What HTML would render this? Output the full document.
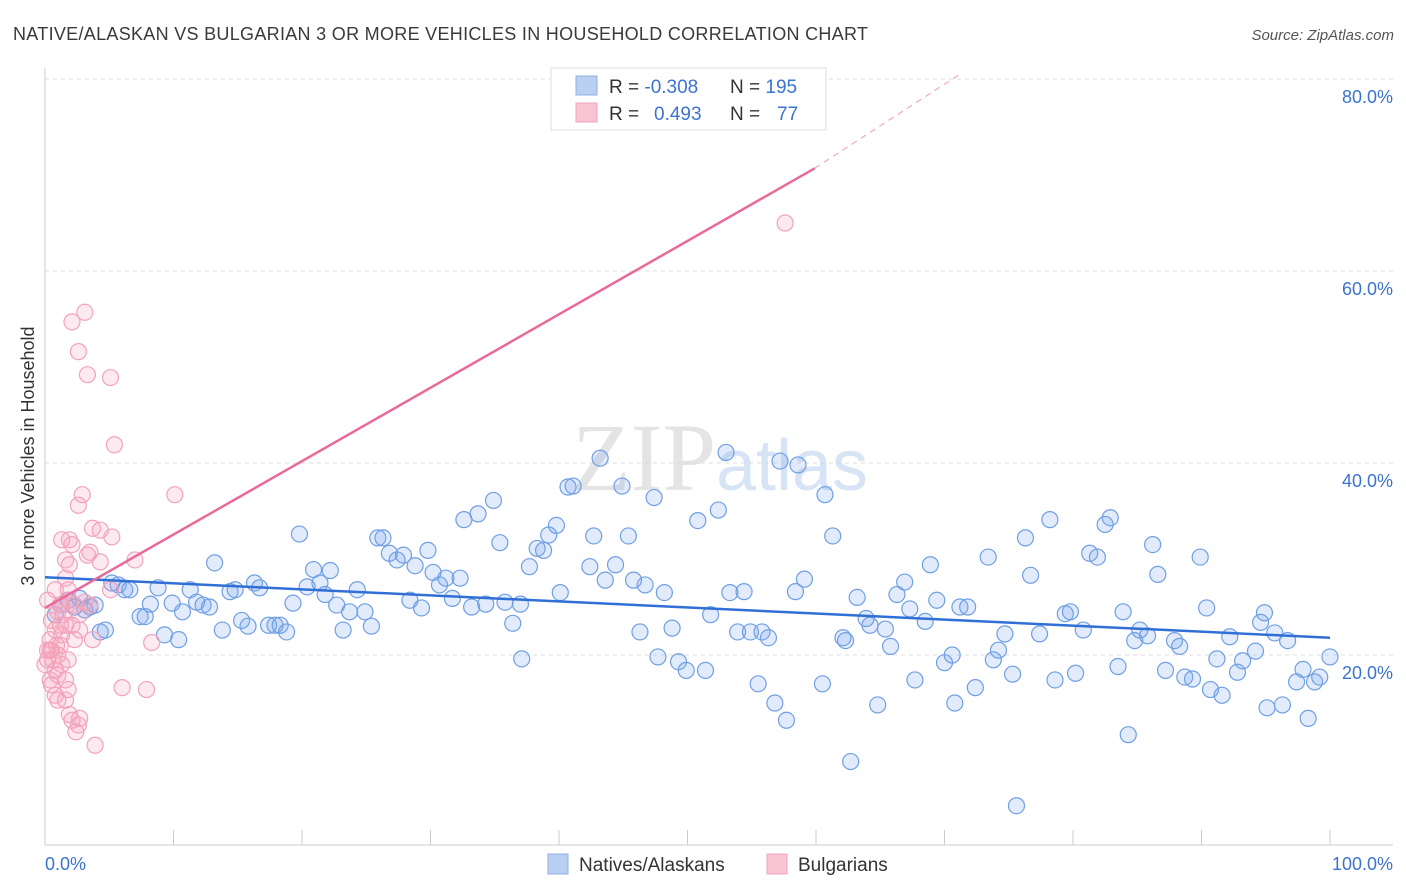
<!DOCTYPE html>
<html><head><meta charset="utf-8"><style>
body{margin:0;background:#fff;font-family:"Liberation Sans",sans-serif;}
svg{display:block}
</style></head><body>
<svg id="chart" width="1406" height="892" xmlns="http://www.w3.org/2000/svg">
<text x="13" y="40" font-size="18" fill="#3a3a3a" letter-spacing="0.3">NATIVE/ALASKAN VS BULGARIAN 3 OR MORE VEHICLES IN HOUSEHOLD CORRELATION CHART</text>
<text x="1394" y="40" font-size="15" fill="#555" text-anchor="end" font-style="italic">Source: ZipAtlas.com</text>
<text x="720" y="490" font-size="96" text-anchor="middle" fill="#e4e4e4" font-family="Liberation Serif,serif">ZIP<tspan fill="#d6e4f5" font-family="Liberation Sans,sans-serif" font-size="72">atlas</tspan></text>
<text transform="translate(34,456) rotate(-90)" font-size="18" fill="#333" text-anchor="middle">3 or more Vehicles in Household</text>
<g id="grid"></g><g id="axes"></g><g id="pts"></g><g id="lines"></g>
<g>
<rect x="551" y="68" width="275" height="62" fill="#fff" stroke="#ddd"/>
<rect x="576" y="76" width="21" height="19" fill="#b8d0f2" stroke="#8fb1e0"/>
<rect x="576" y="103" width="21" height="19" fill="#f9c4d3" stroke="#f0a4ba"/>
<text x="609" y="93" font-size="19" fill="#333">R = <tspan fill="#3b73d0">-0.308</tspan><tspan x="730">N = </tspan><tspan fill="#3b73d0">195</tspan></text>
<text x="609" y="120" font-size="19" fill="#333">R = <tspan x="654" fill="#3b73d0">0.493</tspan><tspan x="730">N = </tspan><tspan x="777" fill="#3b73d0">77</tspan></text>
</g>
<g>
<rect x="548" y="854" width="20" height="20" fill="#b8d0f2" stroke="#8fb1e0"/>
<text x="579" y="871" font-size="19" fill="#333">Natives/Alaskans</text>
<rect x="767" y="854" width="20" height="20" fill="#f9c4d3" stroke="#f0a4ba"/>
<text x="798" y="871" font-size="19" fill="#333">Bulgarians</text>
</g>
</svg>
<script>
const yTicks=[20,40,60,80];
const yTickLabels=["20.0%","40.0%","60.0%","80.0%"];
const xTickLabels=["0.0%","100.0%"];
const blueX=[0.8,1.2,1.8,2.3,2.7,3.1,3.5,3.9,4.3,4.7,5.2,5.7,6.2,6.6,7.4,7.8,8.2,8.8,9.3,9.9,10.4,10.7,11.3,11.8,12.3,12.8,13.2,13.8,14.4,14.8,15.3,15.8,16.3,16.7,17.4,17.9,18.3,18.8,19.3,19.8,20.4,20.9,21.4,21.8,22.2,22.7,23.2,23.7,24.3,24.9,25.4,25.9,26.3,26.8,27.4,27.9,28.4,28.8,29.3,29.8,30.2,30.7,31.2,31.7,32.3,32.6,33.2,33.7,34.3,34.9,35.4,35.8,36.4,37.0,37.1,37.7,38.3,38.8,39.2,39.8,40.1,40.7,41.1,42.4,42.7,43.2,43.6,44.4,44.9,45.4,45.8,46.3,46.7,47.4,48.2,47.7,48.8,49.3,49.9,50.8,51.4,51.8,52.4,53.0,53.3,53.9,54.4,54.9,55.5,55.8,56.3,56.8,57.2,57.7,58.4,58.6,59.1,60.5,60.7,61.3,62.1,62.3,62.7,63.2,63.9,64.2,64.8,65.4,65.8,66.3,66.9,67.3,67.7,68.5,68.9,69.4,70.0,70.6,70.8,71.2,71.8,72.4,73.4,73.8,74.2,74.7,75.3,75.6,76.3,76.7,77.4,78.2,78.6,79.4,79.8,80.2,80.8,81.3,81.9,82.5,82.9,83.5,83.9,84.3,84.8,85.2,85.8,86.2,86.6,87.2,87.9,88.3,88.7,89.3,89.9,90.4,90.7,91.2,91.6,92.2,92.8,93.2,94.2,94.6,94.9,95.1,95.7,96.3,96.7,97.4,97.9,98.3,98.8,99.2,100.0];
const blueY=[24.2,25.2,25.7,25.0,25.9,24.7,25.0,25.2,22.4,22.6,27.5,27.3,26.8,26.8,24.0,24.0,25.3,27.0,22.1,25.4,21.6,24.5,26.8,25.5,25.2,25.0,29.6,22.6,26.6,26.8,23.6,23.0,27.5,27.0,23.1,23.1,23.1,22.4,25.4,32.6,27.1,28.9,27.5,26.3,28.8,25.2,22.6,24.5,26.8,24.5,23.0,32.2,32.2,30.6,29.9,30.4,25.7,29.3,24.9,30.9,28.6,27.3,28.0,25.9,28.0,34.1,25.0,34.7,25.3,36.1,31.7,25.5,23.3,25.3,19.6,29.2,31.1,30.9,32.5,33.5,26.5,37.5,37.6,29.2,32.4,40.5,27.8,29.4,37.6,32.4,27.8,22.4,27.3,36.4,26.5,19.8,22.8,19.3,18.4,34.0,18.4,24.2,35.1,41.1,26.5,22.4,26.6,22.4,17.0,22.4,21.8,15.0,40.2,13.2,26.6,39.8,27.9,17.0,36.7,32.4,21.8,21.5,8.9,26.0,23.8,23.1,14.8,22.7,20.9,26.3,27.6,24.8,17.4,23.5,29.4,25.7,19.2,20.0,15.0,25.0,25.0,16.6,30.2,19.5,20.5,22.2,18.0,4.3,32.2,28.3,22.2,34.1,17.4,24.3,24.5,18.1,22.6,30.6,30.2,33.6,34.3,18.8,24.5,11.7,21.5,22.6,22.0,31.5,28.4,18.4,21.5,20.9,17.7,17.5,30.2,24.9,16.4,19.6,15.8,21.9,18.2,19.4,20.4,23.4,24.4,14.5,22.3,14.8,21.5,17.2,18.5,13.4,17.2,17.7,19.8];
const pinkX=[0.4,0.5,0.2,0.8,0.4,1.0,1.2,1.3,0.8,1.6,0.5,1.0,1.3,1.9,1.8,1.6,1.9,1.6,2.1,1.3,1.9,2.6,2.9,2.3,2.7,3.1,3.5,3.3,3.5,3.7,4.3,4.3,5.2,5.4,5.1,3.1,2.1,2.6,3.3,6.0,7.9,8.3,10.1,7.0,5.1,3.7,2.1,2.3,1.8,1.8,1.6,1.9,2.1,2.6,2.7,2.4,3.9,1.3,1.6,0.8,0.4,0.9,1.4,2.7,1.0,0.2,0.8,1.2,1.0,0.5,0.0,0.2,0.6,1.2,57.6];
const pinkY=[21.6,20.5,19.5,18.4,17.4,20.0,21.0,22.1,22.6,23.1,23.6,24.5,25.2,25.7,26.8,28.0,29.4,29.9,31.5,32.0,32.0,35.6,36.7,25.2,24.2,25.5,25.2,30.4,30.7,33.2,33.0,29.7,32.3,41.9,48.9,55.7,54.7,51.6,49.2,16.6,16.4,21.3,36.7,29.9,26.8,21.6,23.1,21.6,19.5,16.4,15.3,13.8,13.2,12.7,13.4,12.0,10.6,19.0,17.4,15.8,20.5,21.0,24.2,22.6,15.3,25.7,26.8,25.2,17.9,16.9,19.0,20.5,19.5,23.1,65.0];
const blueTrend=[[0,28.1],[100,21.8]];
const pinkTrend=[[0,24.9],[59.9,70.7]];
const pinkDash=[[59.9,70.7],[71.2,80.5]];
const NS="http://www.w3.org/2000/svg";
const X0=45,X1=1330,Y0=847,PXPER=9.6;
function sx(v){return X0+(X1-X0)*v/100;}
function sy(v){return Y0-v*PXPER;}
function mk(tag,attrs,parent){const e=document.createElementNS(NS,tag);for(const k in attrs)e.setAttribute(k,attrs[k]);document.getElementById(parent).appendChild(e);return e;}
yTicks.forEach((t,i)=>{
  const g=mk('line',{x1:45,x2:1393,y1:sy(t),y2:sy(t),stroke:'#ddd','stroke-dasharray':'4,4'},'grid');
  
  
  const l=mk('text',{x:1393,y:sy(t)+24,'font-size':18,fill:'#3b73d0','text-anchor':'end'},'grid');
  
  
  l.textContent=yTickLabels[i];
});
const ax=mk('line',{x1:45,x2:1393,y1:845,y2:845,stroke:'#ccc'},'axes');


const ay=mk('line',{x1:45,x2:45,y1:68,y2:845,stroke:'#ccc'},'axes');


for(let i=1;i<=10;i++){
  const t=mk('line',{x1:sx(i*10),x2:sx(i*10),y1:830,y2:845,stroke:'#ccc'},'axes');
  
  
}
const xl0=mk('text',{x:45,y:870,'font-size':18,fill:'#3b73d0'},'axes');


xl0.textContent=xTickLabels[0];
const xl1=mk('text',{x:1393,y:870,'font-size':18,fill:'#3b73d0','text-anchor':'end'},'axes');


xl1.textContent=xTickLabels[1];
blueX.forEach((v,i)=>{
  const c=mk('circle',{cx:sx(v),cy:sy(blueY[i]),r:8,fill:'rgba(120,165,235,0.22)',stroke:'#6f9fe3','stroke-width':1.2},'pts');
  
  
});
pinkX.forEach((v,i)=>{
  const c=mk('circle',{cx:sx(v),cy:sy(pinkY[i]),r:8,fill:'rgba(245,160,185,0.22)',stroke:'#f2a3bb','stroke-width':1.2},'pts');
  
  
});
const bl=mk('line',{x1:sx(blueTrend[0][0]),y1:sy(blueTrend[0][1]),x2:sx(blueTrend[1][0]),y2:sy(blueTrend[1][1]),stroke:'#2f6fd6','stroke-width':2.5},'lines');


const pl=mk('line',{x1:sx(pinkTrend[0][0]),y1:sy(pinkTrend[0][1]),x2:sx(pinkTrend[1][0]),y2:sy(pinkTrend[1][1]),stroke:'#e8699a','stroke-width':2.5},'lines');


const pd=mk('line',{x1:sx(pinkDash[0][0]),y1:sy(pinkDash[0][1]),x2:sx(pinkDash[1][0]),y2:sy(pinkDash[1][1]),stroke:'#f0a8c0','stroke-width':1.2,'stroke-dasharray':'6,5'},'lines');


</script>
</body></html>
